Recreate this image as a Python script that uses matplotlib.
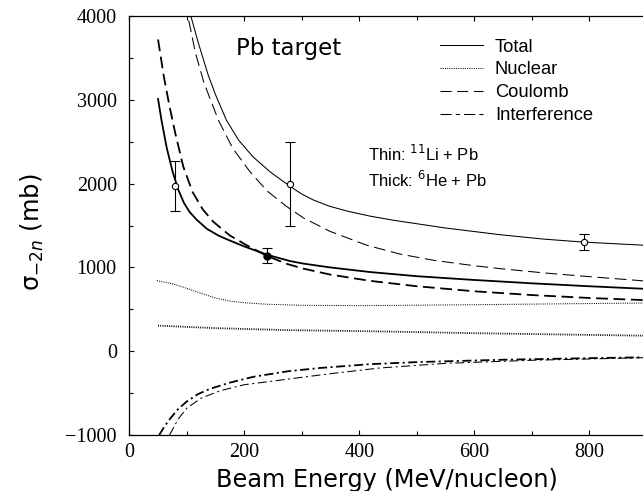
import matplotlib
matplotlib.use("Agg")
import matplotlib.pyplot as plt
from matplotlib.lines import Line2D

plt.rcParams["lines.scale_dashes"] = False

# 11Li + Pb (thin lines)
li_total_e = [100, 107, 120, 137, 150, 169, 190, 215, 245, 280, 300, 320, 348, 380, 420, 460, 550, 645, 720, 790, 894, 1000]
li_total = [4210, 4000, 3680, 3300, 3060, 2756, 2520, 2320, 2140, 1965, 1875, 1805, 1730, 1670, 1610, 1562, 1470, 1390, 1338, 1302, 1265, 1235]
li_coul_e = [98, 103, 115, 130, 155, 180, 210, 240, 274, 303, 349, 413, 470, 529, 600, 645, 720, 790, 893, 1000]
li_coul = [4150, 3960, 3560, 3200, 2756, 2420, 2140, 1910, 1725, 1590, 1430, 1265, 1160, 1085, 1020, 985, 935, 895, 840, 795]
li_nuc_e = [48, 75, 100, 125, 150, 175, 200, 240, 300, 400, 600, 894, 1000]
li_nuc = [842, 805, 750, 690, 635, 598, 578, 560, 548, 543, 555, 575, 580]
li_int_e = [70, 85, 100, 125, 158, 200, 274, 350, 436, 550, 700, 894, 1000]
li_int = [-1000, -810, -680, -560, -472, -400, -335, -268, -200, -145, -108, -78, -68]

# 6He + Pb (thick lines)
he_total_e = [50, 56, 65, 75, 85, 95, 105, 117, 135, 155, 175, 200, 240, 280, 303, 349, 418, 500, 600, 700, 800, 894, 1000]
he_total = [3010, 2756, 2430, 2150, 1930, 1770, 1660, 1570, 1460, 1380, 1320, 1250, 1150, 1075, 1045, 1000, 945, 895, 850, 810, 775, 745, 715]
he_coul_e = [50, 60, 70, 80, 94, 110, 128, 146, 175, 204, 240, 275, 303, 349, 418, 500, 600, 700, 800, 894, 1000]
he_coul = [3720, 3280, 2920, 2600, 2200, 1900, 1690, 1545, 1380, 1265, 1135, 1040, 985, 915, 840, 775, 715, 670, 635, 610, 585]
he_nuc_e = [50, 150, 274, 436, 600, 894, 1000]
he_nuc = [305, 275, 252, 236, 215, 185, 175]
he_int_e = [52, 62, 71, 85, 100, 120, 140, 175, 216, 275, 332, 418, 500, 650, 800, 894, 1000]
he_int = [-1000, -890, -805, -690, -600, -510, -450, -375, -305, -240, -200, -155, -130, -102, -83, -73, -63]

# measured points
open_e = [80, 280, 790]
open_sig = [1970, 2000, 1300]
open_err = [300, 500, 95]
filled_e = [240]
filled_sig = [1140]
filled_err = [88]

serif = "Liberation Serif"
sans = "Liberation Sans"

fig = plt.figure(figsize=(6.43, 4.91), dpi=100)
ax = fig.add_axes([129.3 / 643, 56 / 491, 575 / 643, 419 / 491])

thin = 0.75
thick = 1.3
dash = (0, (8.5, 4))
dashdot = (0, (6.5, 2.5, 1.5, 2.5))
dot = (0, (0.7, 0.9))

ax.plot(li_total_e, li_total, color="black", lw=thin)
ax.plot(li_coul_e, li_coul, color="black", lw=thin, linestyle=dash)
ax.plot(li_nuc_e, li_nuc, color="black", lw=thin, linestyle=dot)
ax.plot(li_int_e, li_int, color="black", lw=thin, linestyle=dashdot)

ax.plot(he_total_e, he_total, color="black", lw=thick)
ax.plot(he_coul_e, he_coul, color="black", lw=thick, linestyle=dash)
ax.plot(he_nuc_e, he_nuc, color="black", lw=thick, linestyle=dot)
ax.plot(he_int_e, he_int, color="black", lw=thick, linestyle=dashdot)

ax.errorbar(open_e, open_sig, yerr=open_err, fmt="o", ms=4.5, mfc="white", mec="black",
            mew=0.8, ecolor="black", elinewidth=0.8, capsize=3.3, capthick=0.8, zorder=5)
ax.errorbar(filled_e, filled_sig, yerr=filled_err, fmt="o", ms=5, mfc="black", mec="black",
            ecolor="black", elinewidth=0.8, capsize=3.3, capthick=0.8, zorder=5)

ax.set_xlim(0, 1000)
ax.set_ylim(-1000, 4000)
ax.set_xticks([0, 200, 400, 600, 800, 1000])
ax.set_xticklabels(["0", "200", "400", "600", "800", ""])
ax.set_xticks(range(100, 1000, 200), minor=True)
ax.set_yticks([-1000, 0, 1000, 2000, 3000, 4000])
ax.set_yticks(range(-500, 4000, 1000), minor=True)
ax.set_yticklabels(["\u22121000", "0", "1000", "2000", "3000", "4000"])
ax.tick_params(which="both", direction="in", top=True, right=True, width=0.8)
ax.tick_params(which="major", length=3.5)
ax.tick_params(which="minor", length=3)
ax.tick_params(axis="y", pad=9)
ax.tick_params(axis="x", pad=6)
for lab in ax.get_xticklabels() + ax.get_yticklabels():
    lab.set_fontfamily(serif)
    lab.set_fontsize(14.5)
for sp in ax.spines.values():
    sp.set_linewidth(0.9)

ax.set_xlabel("Beam Energy (MeV/nucleon)", fontsize=17.3)
ax.xaxis.set_label_coords(0.448, -0.079)
ax.set_ylabel("\u03c3$_{-2n}$ (mb)", fontsize=17.5)
ax.yaxis.set_label_coords(-0.145, 0.484)

ax.text(0.1856, 0.907, "Pb target", transform=ax.transAxes, fontsize=16.5,
        ha="left", va="baseline")
ax.text(0.415, 0.6547, r"Thin: $^{11}$Li + Pb", transform=ax.transAxes,
        fontsize=12, family=sans, ha="left", va="baseline")
ax.text(0.415, 0.591, r"Thick: $^{6}$He + Pb", transform=ax.transAxes,
        fontsize=12, family=sans, ha="left", va="baseline")

handles = [
    Line2D([], [], color="black", lw=thin),
    Line2D([], [], color="black", lw=thin, linestyle=dot),
    Line2D([], [], color="black", lw=thin, linestyle=(0, (8, 4))),
    Line2D([], [], color="black", lw=thin, linestyle=(0, (8, 3, 3, 3))),
]
ax.legend(handles, ["Total", "Nuclear", "Coulomb", "Interference"], loc="upper left",
          bbox_to_anchor=(0.540, 0.946), frameon=False, borderpad=0, borderaxespad=0,
          handlelength=2.35, handletextpad=0.66, labelspacing=0.32,
          prop={"family": sans, "size": 13.2})

fig.savefig("out.png", dpi=100)
